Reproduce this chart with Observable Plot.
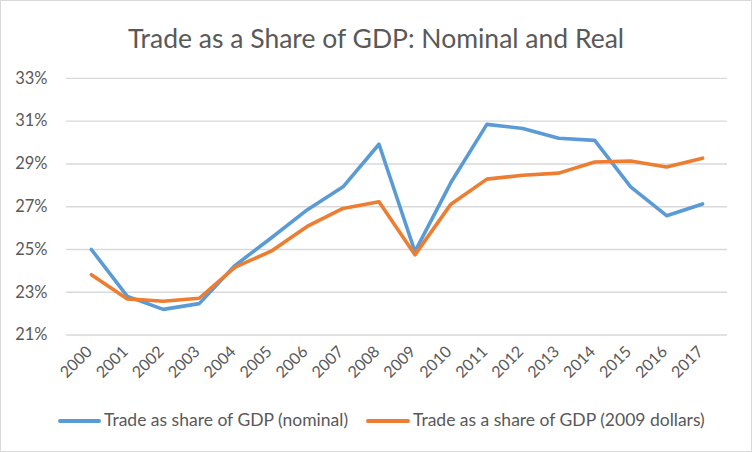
<!DOCTYPE html>
<html>
<head>
<meta charset="utf-8">
<script src="https://cdn.jsdelivr.net/npm/d3@7"></script>
<script src="https://cdn.jsdelivr.net/npm/@observablehq/plot@0.6"></script>
<style>
  html, body { margin: 0; padding: 0; background: #fff; }
  #wrap { position: relative; width: 750px; height: 450px; border: 1px solid #d9d9d9; overflow: hidden; font-family: Lato, "Open Sans", sans-serif; color: #595959; }
  #chart { position: absolute; left: -1px; top: -1px; }
  #title { position: absolute; left: 0; width: 750px; top: 21px; text-align: center; font-size: 26.5px; line-height: 32px; color: #595959; }
  .leg { position: absolute; top: 408px; font-size: 17.5px; line-height: 22px; color: #595959; white-space: nowrap; }
  .sw { position: absolute; top: 418px; height: 4px; border-radius: 2px; }
</style>
</head>
<body>
<div id="wrap">
  <div id="chart"></div>
  <div id="title">Trade as a Share of GDP: Nominal and Real</div>
  <div class="sw" style="left:57px;width:43px;background:#5b9bd5"></div>
  <div class="leg" style="left:103px">Trade as share of GDP (nominal)</div>
  <div class="sw" style="left:365px;width:44px;background:#ed7d31"></div>
  <div class="leg" style="left:412px">Trade as a share of GDP (2009 dollars)</div>
</div>
<script>
const years = ["2000","2001","2002","2003","2004","2005","2006","2007","2008","2009","2010","2011","2012","2013","2014","2015","2016","2017"];
const nominal = [25.0, 22.81, 22.2, 22.47, 24.26, 25.54, 26.85, 27.93, 29.92, 24.9, 28.13, 30.85, 30.66, 30.2, 30.1, 27.93, 26.58, 27.13];
const real = [23.82, 22.69, 22.58, 22.72, 24.18, 24.92, 26.08, 26.92, 27.23, 24.75, 27.12, 28.29, 28.47, 28.57, 29.09, 29.14, 28.86, 29.27];
const seriesNames = ["Trade as share of GDP (nominal)", "Trade as a share of GDP (2009 dollars)"];
const seriesColors = ["#5b9bd5", "#ed7d31"];
const yTicks = [21, 23, 25, 27, 29, 31, 33];

const rows = [];
years.forEach((y, i) => rows.push({year: y, value: nominal[i], series: seriesNames[0]}));
years.forEach((y, i) => rows.push({year: y, value: real[i], series: seriesNames[1]}));

const chart = Plot.plot({
  width: 752,
  height: 452,
  marginLeft: 66,
  marginRight: 24,
  marginTop: 78,
  marginBottom: 117,
  style: {fontFamily: "Lato, 'Open Sans', sans-serif", color: "#595959", background: "transparent", overflow: "visible"},
  x: {type: "point", domain: years, padding: 0.5, label: null},
  y: {domain: [21, 33], label: null},
  color: {domain: seriesNames, range: seriesColors},
  marks: [
    Plot.gridY(yTicks, {stroke: "#d9d9d9", strokeOpacity: 1, strokeWidth: 1.4}),
    Plot.axisY(yTicks, {tickSize: 0, tickPadding: 19, tickFormat: d => d + "%", fontSize: 16.5, label: null}),
    Plot.axisX({tickSize: 0, tickRotate: -45, tickPadding: 14, fontSize: 16, label: null, dx: -2}),
    Plot.lineY(rows, {x: "year", y: "value", stroke: "series", strokeWidth: 3.6, strokeLinejoin: "round", strokeLinecap: "round"})
  ]
});
document.getElementById("chart").appendChild(chart);
</script>
</body>
</html>
